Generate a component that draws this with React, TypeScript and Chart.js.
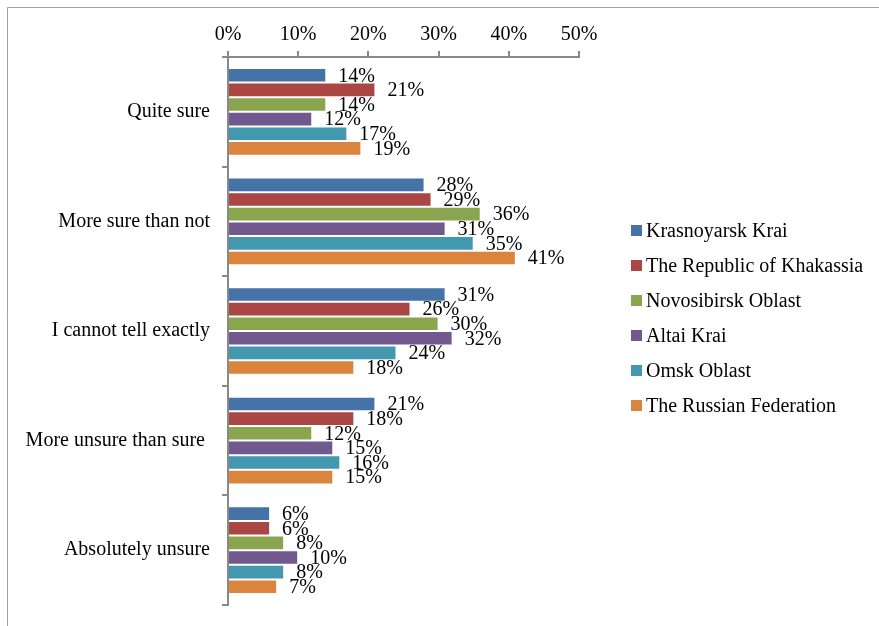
import React, { useEffect, useRef } from "react";
import { Chart, registerables } from "chart.js";

Chart.register(...registerables);

const categories = [
  "Quite sure",
  "More sure than not",
  "I cannot tell exactly",
  "More unsure than sure ",
  "Absolutely unsure",
];

const seriesNames = [
  "Krasnoyarsk Krai",
  "The Republic of Khakassia",
  "Novosibirsk Oblast",
  "Altai Krai",
  "Omsk Oblast",
  "The Russian Federation",
];

const krasnoyarsk = [14, 28, 31, 21, 6];
const khakassia = [21, 29, 26, 18, 6];
const novosibirsk = [14, 36, 30, 12, 8];
const altai = [12, 31, 32, 15, 10];
const omsk = [17, 35, 24, 16, 8];
const russia = [19, 41, 18, 15, 7];

const seriesValues = [krasnoyarsk, khakassia, novosibirsk, altai, omsk, russia];
const seriesColors = ["#4572A7", "#AA4643", "#89A54E", "#71588F", "#4198AF", "#DB843D"];

const xTicks = [0, 10, 20, 30, 40, 50];

const FONT = "Liberation Serif, 'Times New Roman', serif";
const AXIS = "#898989";

const framePlugin = {
  id: "frame",
  beforeDraw(chart: any) {
    const ctx = chart.ctx;
    ctx.save();
    ctx.fillStyle = "#ffffff";
    ctx.fillRect(0, 0, chart.width, chart.height);
    ctx.strokeStyle = "#a0a0a0";
    ctx.lineWidth = 1;
    ctx.beginPath();
    ctx.moveTo(7.5, chart.height);
    ctx.lineTo(7.5, 7.5);
    ctx.lineTo(chart.width, 7.5);
    ctx.stroke();
    ctx.restore();
  },
};

const labelPlugin = {
  id: "valueLabels",
  afterDatasetsDraw(chart: any) {
    const ctx = chart.ctx;
    ctx.save();
    ctx.font = `20px ${FONT}`;
    ctx.fillStyle = "#000";
    ctx.textAlign = "left";
    ctx.textBaseline = "middle";
    chart.data.datasets.forEach((ds: any, di: number) => {
      const meta = chart.getDatasetMeta(di);
      meta.data.forEach((el: any, i: number) => {
        ctx.fillText(`${ds.data[i]}%`, el.x + 12, el.y + 1);
      });
    });
    ctx.restore();
  },
};

const legendPlugin = {
  id: "customLegend",
  afterDraw(chart: any) {
    const ctx = chart.ctx;
    const area = chart.chartArea;
    const x0 = area.right + 52;
    const y0 = 231;
    ctx.save();
    ctx.font = `20px ${FONT}`;
    ctx.textAlign = "left";
    ctx.textBaseline = "middle";
    chart.data.datasets.forEach((ds: any, i: number) => {
      const y = y0 + i * 35;
      ctx.fillStyle = ds.backgroundColor;
      ctx.fillRect(x0, y - 6, 11, 11);
      ctx.fillStyle = "#000";
      ctx.fillText(ds.label, x0 + 15, y + 1);
    });
    ctx.restore();
  },
};

export default function App() {
  const ref = useRef<HTMLCanvasElement | null>(null);

  useEffect(() => {
    if (!ref.current) return;
    const chart = new Chart(ref.current, {
      type: "bar",
      data: {
        labels: categories,
        datasets: seriesNames.map((name, i) => ({
          label: name,
          data: seriesValues[i],
          backgroundColor: seriesColors[i],
          borderColor: "rgba(255,255,255,0.5)",
          borderWidth: 1,
          categoryPercentage: 0.8,
          barPercentage: 1.0,
        })),
      },
      options: {
        indexAxis: "y",
        animation: false,
        responsive: false,
        devicePixelRatio: 1,
        layout: { padding: { left: 0, top: 0, right: 300, bottom: 21 } },
        plugins: {
          legend: { display: false },
          tooltip: { enabled: false },
        },
        scales: {
          x: {
            position: "top",
            min: 0,
            max: 50,
            afterBuildTicks: (s: any) => {
              s.ticks = xTicks.map((v) => ({ value: v }));
            },
            afterFit: (s: any) => {
              s.height = 57;
              s.paddingLeft = 0;
              s.paddingRight = 0;
            },
            ticks: {
              callback: (v: any) => `${v}%`,
              color: "#000",
              font: { family: FONT, size: 20 },
              padding: 4,
              maxRotation: 0,
            },
            grid: {
              drawOnChartArea: false,
              drawTicks: true,
              tickLength: 6,
              color: AXIS,
              lineWidth: 2,
            },
            border: { color: AXIS, width: 2 },
          },
          y: {
            afterFit: (s: any) => {
              s.width = 228;
              s.paddingTop = 0;
              s.paddingBottom = 0;
            },
            ticks: {
              color: "#000",
              font: { family: FONT, size: 20 },
              padding: 12,
            },
            grid: {
              drawOnChartArea: false,
              drawTicks: true,
              tickLength: 6,
              color: AXIS,
              lineWidth: 2,
              offset: true,
            },
            border: { color: AXIS, width: 2 },
          },
        },
      },
      plugins: [framePlugin, labelPlugin, legendPlugin],
    } as any);
    return () => chart.destroy();
  }, []);

  return (
    <div style={{ position: "absolute", left: 0, top: 0, width: 879, height: 626 }}>
      <canvas ref={ref} width={879} height={626} style={{ display: "block" }} />
    </div>
  );
}
